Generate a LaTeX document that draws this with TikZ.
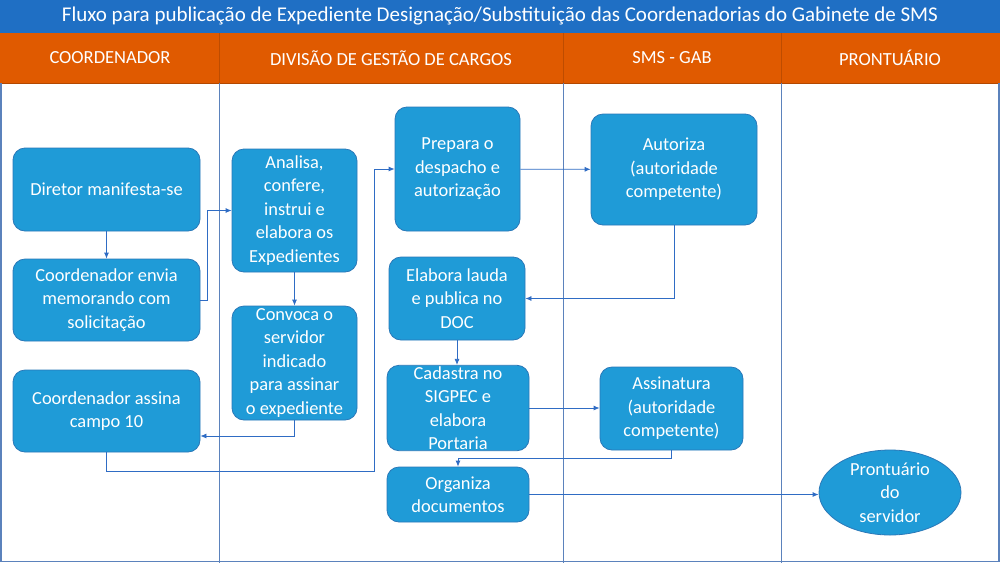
\documentclass[tikz,border=0pt]{standalone}
\usepackage{fontspec}
\setmainfont{Carlito}
\usepackage{tikz}
\usetikzlibrary{arrows.meta,shapes.geometric}

\definecolor{titlebar}{HTML}{1F6FC4}
\definecolor{lanehead}{HTML}{E05A00}
\definecolor{laneline}{HTML}{5B82BC}
\definecolor{boxfill}{HTML}{1F9BD7}
\definecolor{boxline}{HTML}{2A78B8}
\definecolor{flowline}{HTML}{2F6CC4}

\tikzset{
  stepbox/.style={draw=boxline, fill=boxfill, rounded corners=12pt, line width=0.8pt,
    text=white, align=center, font=\fontsize{18.4}{23.5}\selectfont, inner sep=1pt},
  endbox/.style={draw=boxline, fill=boxfill, ellipse, line width=0.8pt,
    text=white, align=center, font=\fontsize{18.4}{23.5}\selectfont, inner sep=0pt},
  flow/.style={draw=flowline, line width=0.8pt, -{Latex[length=6pt,width=5pt]}},
  headtext/.style={text=white, font=\fontsize{18.5}{22}\selectfont}
}

\begin{document}
\begin{tikzpicture}[x=1pt, y=-1pt]
\useasboundingbox (0,0) rectangle (1000,563);
\fill[white] (0,0) rectangle (1000,563);
% title and lane headers
\fill[titlebar] (0,0) rectangle (1000,33);
\node[text=white, font=\fontsize{21}{24}\selectfont] (title) at (500,16.5) {Fluxo para publicação de Expediente Designação/Substituição das Coordenadorias do Gabinete de SMS};
\fill[lanehead] (0,33) rectangle (1000,83);
\draw[lanehead!80!black, line width=0.8pt] (0,83) -- (1000,83);
\foreach \x in {219,563,781}
  \draw[lanehead!85!black, line width=0.8pt] (\x,33) -- (\x,83);
\node[headtext] (h1) at (110,58) {COORDENADOR};
\node[headtext] (h2) at (391,58) {DIVISÃO DE GESTÃO DE CARGOS};
\node[headtext] (h3) at (672,58) {SMS - GAB};
\node[headtext] (h4) at (890,58) {PRONTUÁRIO};
% lanes
\foreach \x in {219,563,781}
  \draw[laneline, line width=1pt] (\x,83) -- (\x,563);
\draw[laneline, line width=1.2pt] (1,83) -- (1,561.5) -- (999,561.5) -- (999,83);

% steps
\node[stepbox, minimum width=187pt, minimum height=83pt] (dir) at (106.5,189.5) {Diretor manifesta-se};
\node[stepbox, minimum width=187pt, minimum height=82pt] (memo) at (106.5,300) {Coordenador envia\\memorando com\\solicitação};
\node[stepbox, minimum width=187pt, minimum height=82pt] (assina) at (106.5,411) {Coordenador assina\\campo 10};
\node[stepbox, minimum width=125pt, minimum height=123pt] (analisa) at (294.5,210.5) {Analisa,\\confere,\\instrui e\\elabora os\\Expedientes};
\node[stepbox, minimum width=125pt, minimum height=114pt] (convoca) at (294.5,363) {Convoca o\\servidor\\indicado\\para assinar\\o expediente};
\node[stepbox, minimum width=125pt, minimum height=124pt] (prepara) at (457.5,169) {Prepara o\\despacho e\\autorização};
\node[stepbox, minimum width=166pt, minimum height=111pt] (autoriza) at (674,169.5) {Autoriza\\(autoridade\\competente)};
\node[stepbox, minimum width=136pt, minimum height=83pt] (lauda) at (457,298.5) {Elabora lauda\\e publica no\\DOC};
\node[stepbox, minimum width=142pt, minimum height=84pt] (cadastra) at (458,408) {Cadastra no\\SIGPEC e\\elabora\\Portaria};
\node[stepbox, minimum width=143pt, minimum height=83pt] (assinatura) at (671.5,408.5) {Assinatura\\(autoridade\\competente)};
\node[stepbox, minimum width=142pt, minimum height=55pt] (organiza) at (458,494.5) {Organiza\\documentos};
\node[endbox, minimum width=142pt, minimum height=85pt] (pront) at (890,492.5) {Prontuário\\do\\servidor};

% connectors
\draw[flow] (dir) -- (memo);
\draw[flow] (memo.east) -- ++(7,0) |- (analisa.west);
\draw[flow] (analisa) -- (convoca);
\draw[flow] (convoca.south) |- ([yshift=-25pt]assina.east);
\draw[flow] (assina.south) -- ++(0,19) -| ([xshift=-20pt]prepara.west) -- (prepara.west);
\draw[flow] (prepara) -- (autoriza);
\draw[flow] (autoriza.south) |- (lauda.east);
\draw[flow] (lauda.south) -- (lauda.south |- cadastra.north);
\draw[flow] (cadastra.east) -- (assinatura.west |- cadastra.east);
\draw[flow] (assinatura.south) -- ++(0,8) -| (organiza.north);
\draw[flow] (organiza.east) -- (pront.west |- organiza.east);
\end{tikzpicture}
\end{document}
